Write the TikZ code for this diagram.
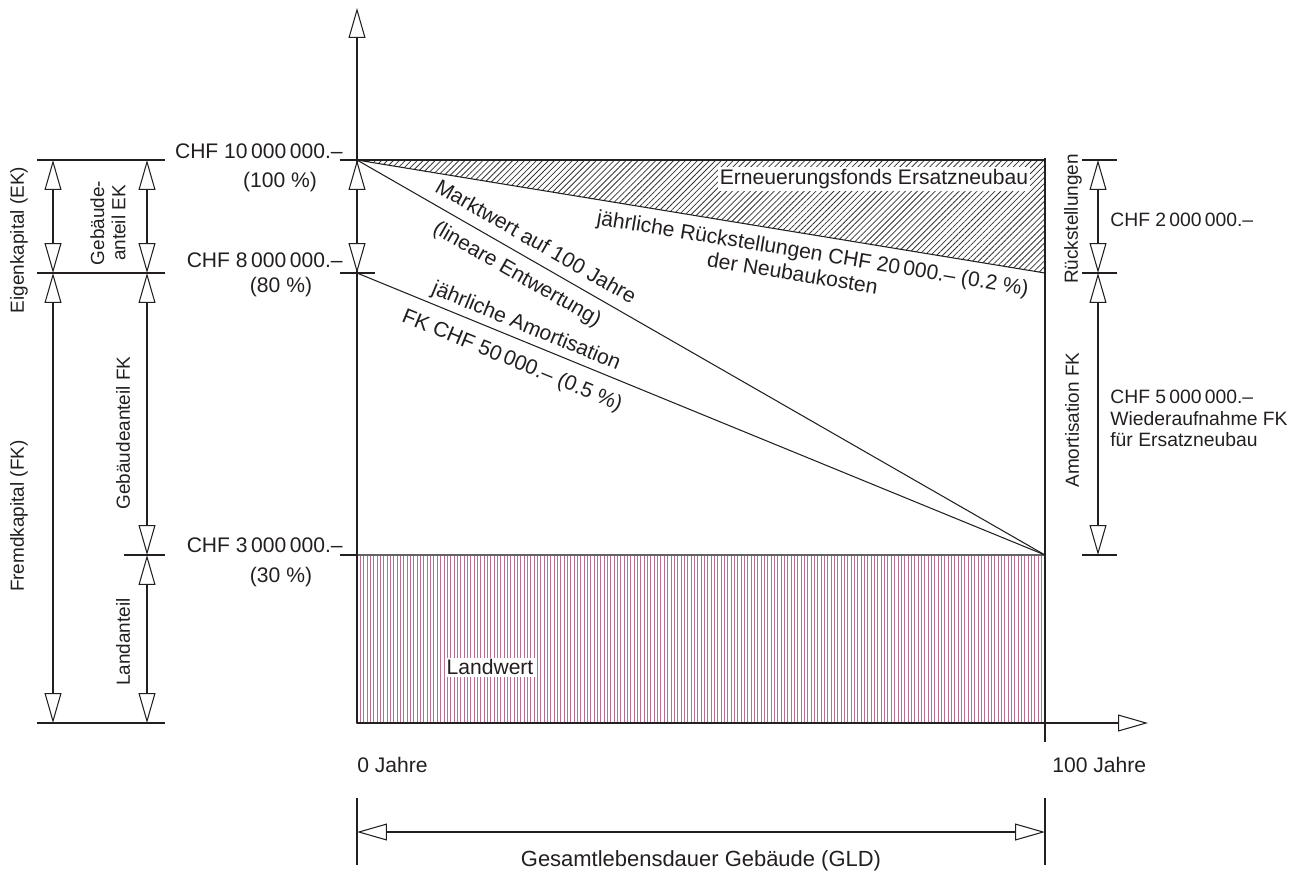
\documentclass[tikz,border=0pt]{standalone}
\usepackage{fontspec}
\setmainfont{Liberation Sans}
\usetikzlibrary{arrows.meta,patterns.meta}
\definecolor{ink}{HTML}{231F20}
\definecolor{hatch}{HTML}{333333}
\definecolor{land}{HTML}{B86E90}
\tikzset{
  plainline/.style={draw=ink,line width=0.6pt},
  dimline/.style={plainline,{Triangle[length=17pt,width=9.6pt,fill=white]}-{Triangle[length=17pt,width=9.6pt,fill=white]}},
  axis/.style={plainline,-{Triangle[length=17pt,width=9.6pt,fill=white]}},
  lbl/.style={font=\fontsize{12}{12.4}\selectfont,text=ink,inner sep=0pt},
  rlbl/.style={lbl,font=\fontsize{11}{12.2}\selectfont},
  vlbl/.style={font=\fontsize{10.8}{12}\selectfont,text=ink,inner sep=0pt,rotate=90,align=center},
  slab/.style={font=\fontsize{12}{21}\selectfont,text=ink,inner sep=0pt,align=center},
  boxlbl/.style={lbl,fill=white,inner sep=1pt}
}

\begin{document}
\begin{tikzpicture}[x=0.02cm,y=-0.02cm]
  \useasboundingbox (0,0) rectangle (1300,870);

  \foreach \col/\x in {ek/53,gb/147,ax/357,gl/1045,rs/1098}{
    \foreach \lev/\y in {100/160,80/273,30/555,0/723}{
      \coordinate (\col\lev) at (\x,\y);
    }
  }
  \coordinate (ytip) at (357,8);
  \coordinate (xtip) at (1148,723);
  \coordinate (gltop) at (1045,158);
  \coordinate (glbot) at (1045,742);
  \coordinate (gld0) at (357,832);
  \coordinate (gld100) at (1045,832);

  % Flaechen
  \fill[pattern={Lines[angle=45,distance=2.4pt,line width=0.45pt]},pattern color=hatch]
    (ax100) -- (gl100) -- (gl80) -- cycle;
  \fill[pattern={Lines[angle=90,distance=1.9pt,line width=0.55pt]},pattern color=land]
    (ax30) rectangle (gl0);
  \draw[plainline,draw=ink!70] (ax30) rectangle (gl0);

  \draw[plainline] (ax100) -- (gl100);
  \draw[plainline] (ax100) -- (gl80);
  \draw[plainline] (ax100) -- (gl30);
  \draw[plainline] (ax80) -- (gl30);
  \draw[plainline] (gltop) -- (glbot);

  \draw[axis] (ax0) -- (ytip);
  \draw[axis] (ax0) -- (xtip);

  % Hilfslinien
  \foreach \y in {160,273,723} \draw[plainline] (37,\y) -- (165,\y);
  \draw[plainline] (124,555) -- (165,555);
  \foreach \y in {160,273,555} \draw[plainline] (1082,\y) -- (1117,\y);
  \draw[plainline] (340,160) -- (357,160);
  \draw[plainline] (340,273) -- (375,273);
  \draw[plainline] (340,555) -- (357,555);
  \draw[plainline] (357,798) -- (357,865);
  \draw[plainline] (1045,798) -- (1045,865);

  % Masslinien
  \draw[dimline] (ek100) -- (ek80);
  \draw[dimline] (ek80) -- (ek0);
  \draw[dimline] (gb100) -- (gb80);
  \draw[dimline] (gb80) -- (gb30);
  \draw[dimline] (gb30) -- (gb0);
  \draw[dimline] (ax100) -- (ax80);
  \draw[dimline] (rs100) -- (rs80);
  \draw[dimline] (rs80) -- (rs30);
  \draw[dimline] (gld0) -- (gld100);

  \node[lbl,anchor=base east] (chf100) at (343,158) {CHF 10\,000\,000.–};
  \node[lbl,anchor=base] (pc100) at (280,187) {(100 \%)};
  \node[lbl,anchor=base east] (chf80) at (343,267) {CHF 8\,000\,000.–};
  \node[lbl,anchor=base] (pc80) at (281,292) {(80 \%)};
  \node[lbl,anchor=base east] (chf30) at (343,552) {CHF 3\,000\,000.–};
  \node[lbl,anchor=base] (pc30) at (281,582) {(30 \%)};

  \node[vlbl] (eklbl) at (19,240) {Eigenkapital (EK)};
  \node[vlbl] (fklbl) at (19,516) {Fremdkapital (FK)};
  \node[vlbl] (gbek) at (108,223) {Gebäude-\\anteil EK};
  \node[vlbl] (gbfk) at (123,433) {Gebäudeanteil FK};
  \node[vlbl] (landlbl) at (123,642) {Landanteil};
  \node[vlbl] (rslbl) at (1073,219) {Rückstellungen};
  \node[vlbl] (amlbl) at (1072,420) {Amortisation FK};

  \node[rlbl,anchor=base west] (chf2) at (1110,226) {CHF 2\,000\,000.–};
  \node[rlbl,anchor=north west,align=left] (chf5) at (1110,390)
    {CHF 5\,000\,000.–\\Wiederaufnahme FK\\für Ersatzneubau};

  \node[boxlbl] (fonds) at (874,179) {Erneuerungsfonds Ersatzneubau};
  \node[boxlbl] (landwert) at (490,667) {Landwert};

  \node[slab,font=\fontsize{12}{13.4}\selectfont,rotate=-9.33] (rueck) at (811,264)
    {jährliche Rückstellungen CHF 20\,000.– (0.2 \%)\\der Neubaukosten\hspace*{19pt}};
  \node[slab,rotate=-29.86] (markt) at (526,259)
    {Marktwert auf 100 Jahre\\(lineare Entwertung)};
  \node[slab,rotate=-22.29] (amort) at (519,344)
    {jährliche Amortisation\\FK CHF 50\,000.– (0.5 \%)};

  \node[lbl,anchor=base west] (j0) at (357,772) {0 Jahre};
  \node[lbl,anchor=base west] (j100) at (1052,772) {100 Jahre};
  \node[lbl,font=\fontsize{12.5}{13}\selectfont,anchor=base] (gld) at (701,866)
    {Gesamtlebensdauer Gebäude (GLD)};
\end{tikzpicture}
\end{document}
